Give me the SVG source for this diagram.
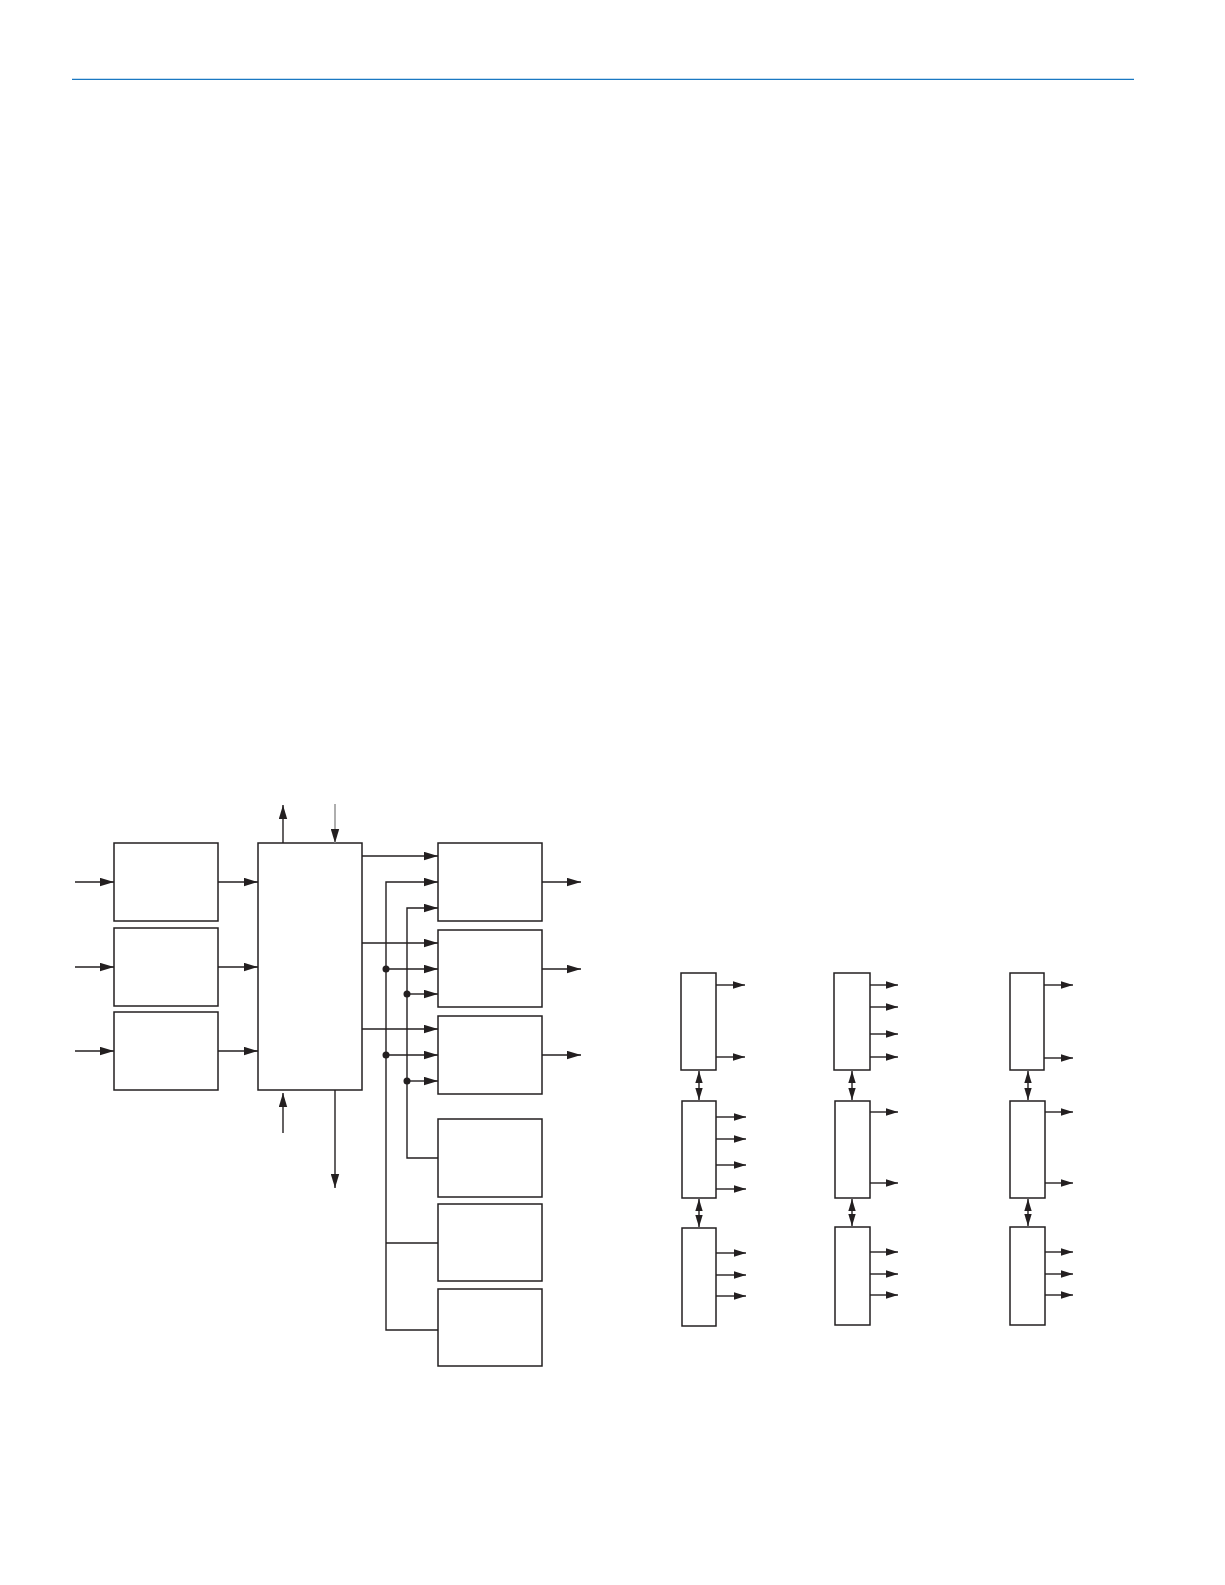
<svg xmlns="http://www.w3.org/2000/svg" width="1225" height="1585" viewBox="0 0 1225 1585">
<style>
.box{fill:#fff;stroke:#231f20;stroke-width:1.5}
.ln{fill:none;stroke:#231f20;stroke-width:1.4}
.a{marker-end:url(#ah)}
.s{marker-end:url(#sh)}
.d{marker-start:url(#sh2);marker-end:url(#sh)}
.gray{fill:none;stroke:#9a9a9a;stroke-width:1.6;marker-end:url(#ah)}
.dot{fill:#231f20}
</style>
<defs>
<marker id="ah" markerUnits="userSpaceOnUse" markerWidth="14" markerHeight="9" refX="14" refY="4.5" orient="auto"><path d="M0,0.3 L14,4.5 L0,8.7 z" fill="#231f20"/></marker>
<marker id="sh" markerUnits="userSpaceOnUse" markerWidth="12" markerHeight="8" refX="12" refY="4" orient="auto"><path d="M0,0.3 L12,4 L0,7.7 z" fill="#231f20"/></marker>
<marker id="sh2" markerUnits="userSpaceOnUse" markerWidth="12" markerHeight="8" refX="0" refY="4" orient="auto"><path d="M12,0.3 L0,4 L12,7.7 z" fill="#231f20"/></marker>
</defs>
<rect width="1225" height="1585" fill="#fff"/>
<line x1="72" y1="79.3" x2="1134" y2="79.3" stroke="#1a78c2" stroke-width="1.3"/>

<g id="l1"><rect class="box" x="114" y="843" width="104" height="78"/></g>
<g id="l2"><rect class="box" x="114" y="928" width="104" height="78"/></g>
<g id="l3"><rect class="box" x="114" y="1012" width="104" height="78"/></g>
<g id="main"><rect class="box" x="258" y="843" width="104" height="247"/></g>
<g id="rA"><rect class="box" x="438" y="843" width="104" height="78"/></g>
<g id="rB"><rect class="box" x="438" y="930" width="104" height="77"/></g>
<g id="rC"><rect class="box" x="438" y="1016" width="104" height="78"/></g>
<g id="rD"><rect class="box" x="438" y="1119" width="104" height="78"/></g>
<g id="rE"><rect class="box" x="438" y="1204" width="104" height="77"/></g>
<g id="rF"><rect class="box" x="438" y="1289" width="104" height="77"/></g>

<g id="c1b1"><rect class="box" x="681" y="973" width="35" height="97"/></g>
<g id="c1b2"><rect class="box" x="682" y="1101" width="34" height="97"/></g>
<g id="c1b3"><rect class="box" x="682" y="1228" width="34" height="98"/></g>
<g id="c2b1"><rect class="box" x="834" y="973" width="36" height="97"/></g>
<g id="c2b2"><rect class="box" x="835" y="1101" width="35" height="97"/></g>
<g id="c2b3"><rect class="box" x="835" y="1227" width="35" height="98"/></g>
<g id="c3b1"><rect class="box" x="1010" y="973" width="34" height="97"/></g>
<g id="c3b2"><rect class="box" x="1010" y="1101" width="35" height="97"/></g>
<g id="c3b3"><rect class="box" x="1010" y="1227" width="35" height="98"/></g>

<g id="connectors">
<path class="ln a" d="M75,882 H114"/>
<path class="ln a" d="M75,967 H114"/>
<path class="ln a" d="M75,1051 H114"/>
<path class="ln a" d="M218,882 H258"/>
<path class="ln a" d="M218,967 H258"/>
<path class="ln a" d="M218,1051 H258"/>
<path class="ln a" d="M283,843 V805"/>
<path class="gray" d="M335,804 V843"/>
<path class="ln a" d="M283,1133 V1093"/>
<path class="ln a" d="M335,1090 V1188"/>
<path class="ln a" d="M362,856 H438"/>
<path class="ln a" d="M362,943 H438"/>
<path class="ln a" d="M362,1029 H438"/>
<path class="ln a" d="M438,1330 H386 V882 H438"/>
<path class="ln a" d="M386,969 H438"/>
<path class="ln a" d="M386,1055 H438"/>
<path class="ln" d="M386,1243 H438"/>
<path class="ln a" d="M438,1158 H407 V908 H438"/>
<path class="ln a" d="M407,994 H438"/>
<path class="ln a" d="M407,1081 H438"/>
<circle class="dot" cx="386" cy="969" r="3.5"/>
<circle class="dot" cx="386" cy="1055" r="3.5"/>
<circle class="dot" cx="407" cy="994" r="3.5"/>
<circle class="dot" cx="407" cy="1081" r="3.5"/>
<path class="ln a" d="M542,882 H581"/>
<path class="ln a" d="M542,969 H581"/>
<path class="ln a" d="M542,1055 H581"/>

<path class="ln s" d="M716,985 H745"/>
<path class="ln s" d="M716,1057 H745"/>
<path class="ln s" d="M716,1117 H746"/>
<path class="ln s" d="M716,1139 H746"/>
<path class="ln s" d="M716,1165 H746"/>
<path class="ln s" d="M716,1189 H746"/>
<path class="ln s" d="M716,1253 H746"/>
<path class="ln s" d="M716,1275 H746"/>
<path class="ln s" d="M716,1296 H746"/>
<path class="ln d" d="M699,1071 V1100"/>
<path class="ln d" d="M699,1199 V1227"/>

<path class="ln s" d="M870,985 H898"/>
<path class="ln s" d="M870,1007 H898"/>
<path class="ln s" d="M870,1034 H898"/>
<path class="ln s" d="M870,1057 H898"/>
<path class="ln s" d="M870,1112 H898"/>
<path class="ln s" d="M870,1183 H898"/>
<path class="ln s" d="M870,1252 H898"/>
<path class="ln s" d="M870,1274 H898"/>
<path class="ln s" d="M870,1295 H898"/>
<path class="ln d" d="M852,1071 V1100"/>
<path class="ln d" d="M852,1199 V1226"/>

<path class="ln s" d="M1044,985 H1073"/>
<path class="ln s" d="M1044,1058 H1073"/>
<path class="ln s" d="M1045,1112 H1073"/>
<path class="ln s" d="M1045,1183 H1073"/>
<path class="ln s" d="M1045,1252 H1073"/>
<path class="ln s" d="M1045,1274 H1073"/>
<path class="ln s" d="M1045,1295 H1073"/>
<path class="ln d" d="M1028,1071 V1100"/>
<path class="ln d" d="M1028,1199 V1226"/>
</g>
</svg>
